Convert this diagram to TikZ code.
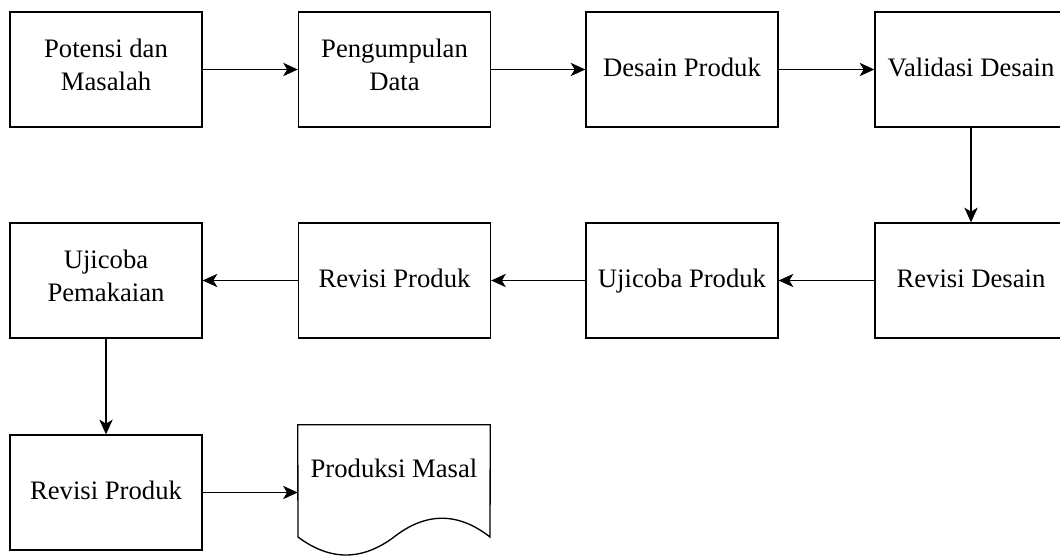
\documentclass[tikz,border=0pt]{standalone}
\usepackage{fontspec}
\setmainfont{Liberation Serif}
\usetikzlibrary{arrows.meta}
\begin{document}
\begin{tikzpicture}[x=0.75pt,y=-0.75pt,
  stepbox/.style={draw=black, line width=1pt, fill=white, rectangle,
    minimum width=144pt, minimum height=86.25pt, inner sep=0pt, align=center,
    font=\fontsize{20}{24.5}\selectfont,
    execute at begin node={\strut}, execute at end node={\strut}},
  plain/.style={inner sep=0pt, align=center, font=\fontsize{20}{24.5}\selectfont,
    execute at begin node={\strut}},
  docbox/.style={rectangle, minimum width=144pt, minimum height=101.25pt, inner sep=0pt},
  flow/.style={line width=1pt, -{Stealth[length=11pt,width=10pt,inset=3pt]}}]
\useasboundingbox (0,0) rectangle (1060,556);
\clip (0,0) rectangle (1060,556);
\fill[white] (0,0) rectangle (1060,556);
% row 1
\node[stepbox] (b1) at (106,69.5) {Potensi dan\\Masalah};
\node[stepbox] (b2) at (394.5,69.5) {Pengumpulan\\Data};
\node[stepbox] (b3) at (682,69.5) {Desain Produk};
\node[stepbox] (b4) at (971,69.5) {Validasi Desain};
% row 2
\node[stepbox] (b5) at (971,280.5) {Revisi Desain};
\node[stepbox] (b6) at (682,280.5) {Ujicoba Produk};
\node[stepbox] (b7) at (394.5,280.5) {Revisi Produk};
\node[stepbox] (b8) at (106,280.5) {Ujicoba\\Pemakaian};
% row 3
\node[stepbox] (b9) at (106,492.5) {Revisi Produk};
\node[docbox] (doc) at (394,492.5) {};
\draw[line width=1pt, fill=white]
  (doc.north west) -- (doc.north east) -- (490,537)
  .. controls (458,512) and (426,512) .. (394,537)
  .. controls (362,561) and (330,561) .. (298,537) -- cycle;
\node[plain] (doctext) at (394,471) {Produksi Masal};
% connectors
\draw[flow] (b1.east) -- (b2.west);
\draw[flow] (b2.east) -- (b3.west);
\draw[flow] (b3.east) -- (b4.west);
\draw[flow] (b4.south) -- (b5.north);
\draw[flow] (b5.west) -- (b6.east);
\draw[flow] (b6.west) -- (b7.east);
\draw[flow] (b7.west) -- (b8.east);
\draw[flow] (b8.south) -- (b9.north);
\draw[flow] (b9.east) -- (doc.west);
\end{tikzpicture}
\end{document}
